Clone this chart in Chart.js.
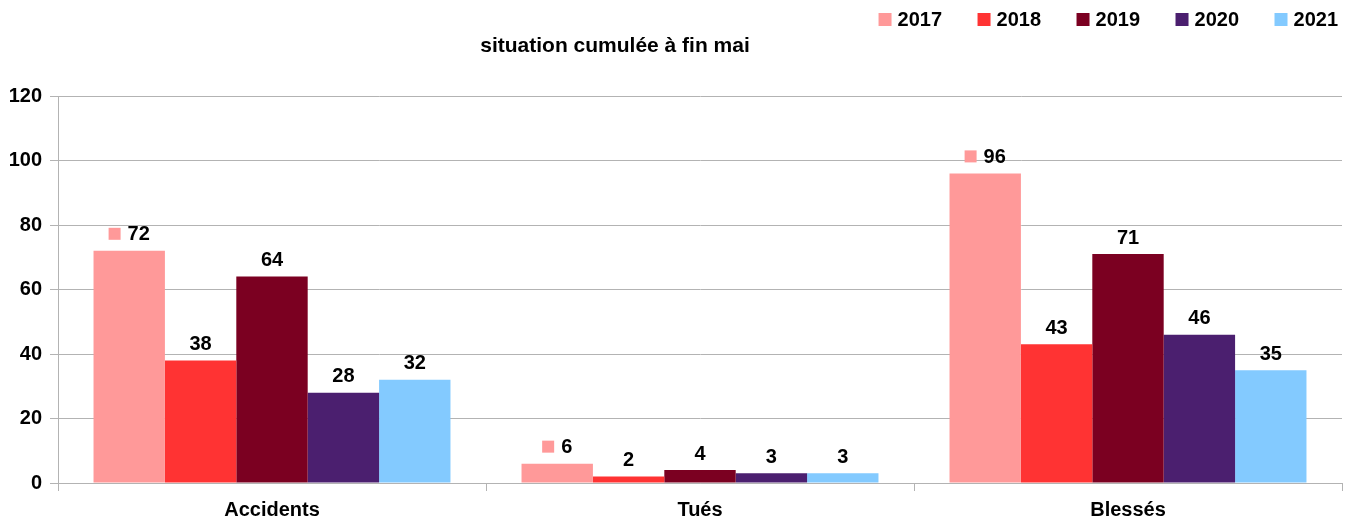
<!DOCTYPE html>
<html lang="fr">
<head>
<meta charset="utf-8">
<title>situation cumulée à fin mai</title>
<script src="https://cdn.jsdelivr.net/npm/chart.js@4/dist/chart.umd.min.js"></script>
<style>
  html, body { margin: 0; padding: 0; background: #fff; }
  canvas { display: block; }
</style>
</head>
<body>
<canvas id="chart" width="1354" height="520"></canvas>
<script>
const categories = ["Accidents", "Tués", "Blessés"];
const years = ["2017", "2018", "2019", "2020", "2021"];
const values2017 = [72, 6, 96];
const values2018 = [38, 2, 43];
const values2019 = [64, 4, 71];
const values2020 = [28, 3, 46];
const values2021 = [32, 3, 35];
const colors = ["#ff9999", "#ff3333", "#7b0021", "#4b1f6f", "#83caff"];
const titleText = "situation cumulée à fin mai";

const FONT = "'Liberation Sans', Arial, sans-serif";
Chart.defaults.font.family = FONT;
Chart.defaults.color = "#000";

// etiquettes de valeurs au-dessus des barres (carré de légende pour 2017)
const valueLabels = {
  id: "valueLabels",
  afterDatasetsDraw(chart) {
    const ctx = chart.ctx;
    ctx.save();
    ctx.font = "bold 20px " + FONT;
    ctx.fillStyle = "#000";
    ctx.textBaseline = "middle";
    ctx.textAlign = "left";
    chart.data.datasets.forEach((ds, di) => {
      const meta = chart.getDatasetMeta(di);
      meta.data.forEach((bar, i) => {
        const txt = String(ds.data[i]);
        const tw = ctx.measureText(txt).width;
        const y = bar.y - 17;
        if (di === 0) {
          const total = 12 + 7 + tw;
          const x0 = bar.x - total / 2;
          ctx.fillStyle = ds.backgroundColor;
          ctx.fillRect(x0, y - 6, 12, 12);
          ctx.fillStyle = "#000";
          ctx.fillText(txt, x0 + 19, y + 1);
        } else {
          ctx.fillText(txt, bar.x - tw / 2, y + 1);
        }
      });
    });
    ctx.restore();
  }
};

// titre + légende en haut
const header = {
  id: "header",
  afterDraw(chart) {
    const ctx = chart.ctx;
    ctx.save();
    ctx.textBaseline = "middle";
    ctx.fillStyle = "#000";
    ctx.font = "bold 21px " + FONT;
    ctx.textAlign = "center";
    ctx.fillText(titleText, 615, 46);
    ctx.font = "bold 20px " + FONT;
    ctx.textAlign = "left";
    const gap = 35.5;
    const items = chart.data.datasets.map(ds => ({
      label: ds.label, color: ds.backgroundColor,
      w: 13 + 6 + ctx.measureText(ds.label).width
    }));
    const total = items.reduce((a, b) => a + b.w, 0) + gap * (items.length - 1);
    let x = 1338 - total;
    items.forEach(it => {
      ctx.fillStyle = it.color;
      ctx.fillRect(x, 13, 13, 13);
      ctx.fillStyle = "#000";
      ctx.fillText(it.label, x + 19, 20);
      x += it.w + gap;
    });
    ctx.restore();
  }
};

const seriesValues = [values2017, values2018, values2019, values2020, values2021];
const datasets = years.map((y, i) => ({
  label: y,
  data: seriesValues[i],
  backgroundColor: colors[i],
  borderWidth: 0,
  barPercentage: 1,
  categoryPercentage: 0.834
}));

new Chart(document.getElementById("chart").getContext("2d"), {
  type: "bar",
  data: { labels: categories, datasets: datasets },
  options: {
    responsive: false,
    animation: false,
    layout: { padding: { left: 0, right: 12, top: 96, bottom: 0 } },
    plugins: {
      legend: { display: false },
      tooltip: { enabled: false },
      title: { display: false }
    },
    scales: {
      x: {
        grid: { offset: true, drawOnChartArea: false, tickLength: 8, color: "#b3b3b3" },
        border: { color: "#b3b3b3" },
        ticks: { font: { size: 20, weight: "bold" }, padding: 7, color: "#000" },
        afterFit(scale) { scale.height = 37; }
      },
      y: {
        min: 0,
        max: 120,
        ticks: { stepSize: 20, font: { size: 20, weight: "bold" }, padding: 8, color: "#000" },
        grid: { color: "#b3b3b3", tickLength: 8 },
        border: { color: "#b3b3b3" },
        afterFit(scale) { scale.width = 58; }
      }
    }
  },
  plugins: [valueLabels, header]
});
</script>
</body>
</html>
